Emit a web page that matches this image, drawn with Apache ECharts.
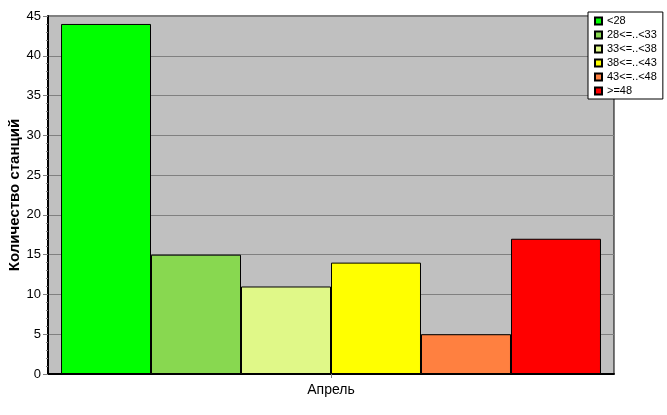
<!DOCTYPE html>
<html><head><meta charset="utf-8">
<script src="https://cdn.jsdelivr.net/npm/echarts@6/dist/echarts.min.js"></script>
<style>html,body{margin:0;padding:0;background:#fff}#c{width:667px;height:415px}</style>
</head><body><div id="c"></div>
<script>
const categories = ['Апрель'];
const seriesNames = ['<28', '28<=..<33', '33<=..<38', '38<=..<43', '43<=..<48', '>=48'];
const seriesValues = [[44], [15], [11], [14], [5], [17]];
const seriesColors = ['#00ff00', '#88d850', '#e0f888', '#ffff00', '#ff8040', '#ff0000'];
const yTicks = { min: 0, max: 45, interval: 5 };
const yTitle = 'Количество станций';

const chart = echarts.init(document.getElementById('c'), null, { renderer: 'canvas' });
const font = 'Arial, "Liberation Sans", sans-serif';
chart.setOption({
  animation: false,
  backgroundColor: '#ffffff',
  grid: { left: 48, right: 53, top: 16, bottom: 41, containLabel: false, outerBoundsMode: 'none',
    show: true, backgroundColor: '#c0c0c0', borderColor: '#000', borderWidth: 1 },
  legend: {
    orient: 'vertical', left: 588, top: 12,
    backgroundColor: '#fff', borderColor: '#000', borderWidth: 1,
    padding: [2, 6, 1, 6], itemWidth: 7, itemHeight: 7, itemGap: 0, itemTextGap: 5,
    icon: 'rect',
    textStyle: { fontFamily: font, fontSize: 11, color: '#000', lineHeight: 14 },
    data: seriesNames
  },
  xAxis: {
    type: 'category', data: categories,
    axisLine: { lineStyle: { color: '#000', width: 2 } },
    axisTick: { show: true, alignWithLabel: true, length: 4, lineStyle: { color: '#808080' } },
    axisLabel: { fontFamily: font, fontSize: 14, color: '#000', margin: 9 }
  },
  yAxis: {
    type: 'value', min: yTicks.min, max: yTicks.max, interval: yTicks.interval,
    name: yTitle, nameLocation: 'middle', nameGap: 26, nameMoveOverlap: false,
    nameTextStyle: { fontFamily: font, fontSize: 15, fontWeight: 'bold', color: '#000' },
    axisLine: { show: true, lineStyle: { color: '#000', width: 2 } },
    axisTick: { show: true, length: 5, lineStyle: { color: '#808080' } },
    minorTick: { show: true, splitNumber: 5, length: 2, lineStyle: { color: '#808080' } },
    axisLabel: { fontFamily: font, fontSize: 13, color: '#000', margin: 7 },
    splitLine: { show: true, lineStyle: { color: '#808080', width: 1 } }
  },
  series: seriesNames.map((n, i) => ({
    name: n, type: 'bar', data: seriesValues[i],
    barGap: '0%', barCategoryGap: '4.6%',
    itemStyle: { color: seriesColors[i], borderColor: '#000', borderWidth: 1 }
  }))
});
</script></body></html>
